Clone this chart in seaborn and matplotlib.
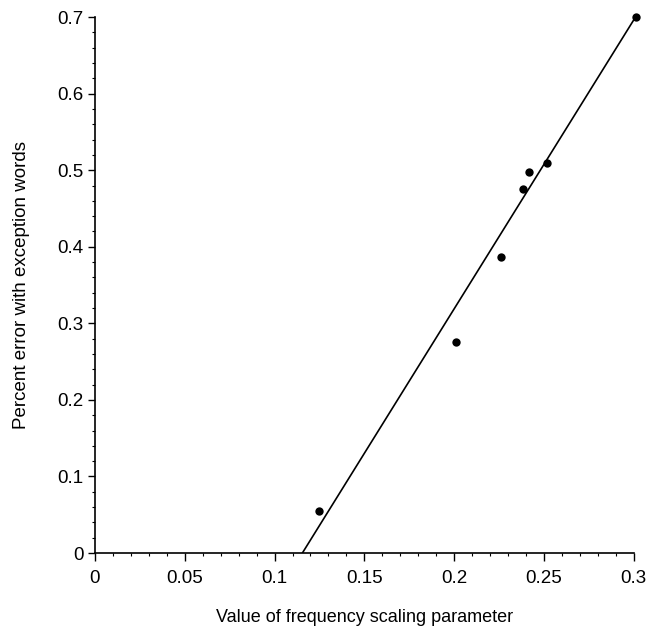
import matplotlib
matplotlib.use("Agg")
import matplotlib.pyplot as plt
import seaborn as sns
import pandas as pd
from matplotlib.ticker import MultipleLocator, FuncFormatter

# Data
freq_scaling = [0.125, 0.201, 0.226, 0.2385, 0.2415, 0.2515, 0.301]
percent_error = [0.055, 0.276, 0.387, 0.476, 0.498, 0.510, 0.700]

# Fitted line endpoints
line_x = [0.1155, 0.301]
line_y = [0.0, 0.700]

x_ticks = [0, 0.05, 0.1, 0.15, 0.2, 0.25, 0.3]
y_ticks = [0, 0.1, 0.2, 0.3, 0.4, 0.5, 0.6, 0.7]

sns.set_style("ticks")
plt.rcParams['font.family'] = ['Liberation Sans', 'DejaVu Sans']
plt.rcParams['text.color'] = 'black'
plt.rcParams['axes.labelcolor'] = 'black'

fig = plt.figure(figsize=(6.46, 6.32), dpi=100)
ax = fig.add_axes([0.147, 0.125, 0.834, 0.848])

pts = pd.DataFrame({"x": freq_scaling, "y": percent_error})
ln = pd.DataFrame({"x": line_x, "y": line_y})

sns.lineplot(data=ln, x="x", y="y", ax=ax, color="black", linewidth=1.2, zorder=2)
sns.scatterplot(data=pts, x="x", y="y", ax=ax, color="black", s=36,
                edgecolor="black", linewidth=0, zorder=3, clip_on=False)

ax.set_xlim(0, 0.3)
ax.set_ylim(0, 0.7)
ax.set_xticks(x_ticks)
ax.set_yticks(y_ticks)
fmt = FuncFormatter(lambda v, p: ("%g" % round(v, 3)))
ax.xaxis.set_major_formatter(fmt)
ax.yaxis.set_major_formatter(fmt)
ax.xaxis.set_minor_locator(MultipleLocator(0.01))
ax.yaxis.set_minor_locator(MultipleLocator(0.02))

sns.despine(ax=ax)
for s in ["left", "bottom"]:
    ax.spines[s].set_linewidth(1.2)
    ax.spines[s].set_color("black")

ax.tick_params(axis="x", which="major", direction="out", length=6, width=1.0,
               colors="black", labelsize=13.5, pad=6)
ax.tick_params(axis="y", which="major", direction="out", length=5, width=1.0,
               colors="black", labelsize=13.5, pad=3)
ax.tick_params(which="minor", direction="out", length=2.5, width=0.8, colors="black")

ax.set_xlabel("Value of frequency scaling parameter", fontsize=13, labelpad=16)
ax.set_ylabel("Percent error with exception words", fontsize=13.5, labelpad=20)

fig.savefig("out.png", dpi=100)
